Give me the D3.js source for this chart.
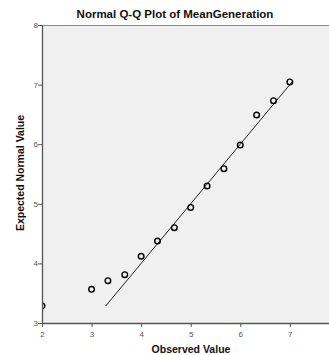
<!DOCTYPE html>
<html><head><meta charset="utf-8">
<script src="https://cdn.jsdelivr.net/npm/d3@7"></script>
<style>body{margin:0;background:#fff}svg{display:block}</style>
</head><body>
<svg id="c" width="329" height="355"></svg>
<script>
const observed = [2.0, 3.0, 3.33, 3.67, 4.0, 4.33, 4.67, 5.0, 5.33, 5.67, 6.0, 6.33, 6.67, 7.0];
const expected = [3.285, 3.565, 3.71, 3.81, 4.12, 4.375, 4.60, 4.94, 5.30, 5.59, 5.985, 6.49, 6.73, 7.045];
const xTicks = [2, 3, 4, 5, 6, 7];
const yTicks = [3, 4, 5, 6, 7, 8];
const refLine = [3.285, 7.045];

const svg = d3.select("#c");
const L = 42, R = 329, T = 25, B = 323;
const x = d3.scaleLinear().domain([2, 7.79]).range([L, R]);
const y = d3.scaleLinear().domain([3, 8]).range([B, T]);

svg.append("defs").append("clipPath").attr("id", "pc")
  .append("rect").attr("x", L + 1).attr("y", T).attr("width", R - L).attr("height", B - T);

svg.append("rect").attr("x", L).attr("y", T).attr("width", R - L).attr("height", B - T).attr("fill", "#f0f0f0");
svg.append("line").attr("x1", L).attr("x2", R).attr("y1", T + 0.5).attr("y2", T + 0.5).attr("stroke", "#888").attr("stroke-width", 1);

const fontF = "'Liberation Sans', Arial, sans-serif";

const plot = svg.append("g").attr("clip-path", "url(#pc)");
plot.append("line")
  .attr("x1", x(refLine[0])).attr("y1", y(refLine[0]))
  .attr("x2", x(refLine[1])).attr("y2", y(refLine[1]))
  .attr("stroke", "#222").attr("stroke-width", 1);
plot.append("g").selectAll("circle").data(observed).join("circle")
  .attr("cx", (d) => x(d)).attr("cy", (d, i) => y(expected[i])).attr("r", 2.8)
  .attr("fill", "none").attr("stroke", "#000").attr("stroke-width", 1.4);

const xa = svg.append("g").attr("transform", `translate(0,${B})`)
  .call(d3.axisBottom(x).tickValues(xTicks).tickSize(4).tickSizeOuter(0).tickFormat(d3.format("d")));
const ya = svg.append("g").attr("transform", `translate(${L},0)`)
  .call(d3.axisLeft(y).tickValues(yTicks).tickSize(4).tickSizeOuter(0).tickFormat(d3.format("d")));
[xa, ya].forEach(a => {
  a.select(".domain").attr("stroke", "#555").attr("stroke-width", 1.3);
  a.selectAll(".tick line").attr("stroke", "#555");
  a.selectAll(".tick text").attr("fill", "#555").style("font-family", fontF).style("font-size", "8px");
});
xa.selectAll(".tick text").attr("dy", "0.9em");
ya.selectAll(".tick text").attr("x", -4);

svg.append("text").attr("x", 175).attr("y", 18).attr("text-anchor", "middle")
  .style("font-family", fontF).style("font-weight", "bold").style("font-size", "11.5px").attr("fill", "#111")
  .text("Normal Q-Q Plot of MeanGeneration");
svg.append("text").attr("x", 191).attr("y", 353).attr("text-anchor", "middle")
  .style("font-family", fontF).style("font-weight", "bold").style("font-size", "10.5px").attr("fill", "#111")
  .text("Observed Value");
svg.append("text").attr("transform", "translate(24,173) rotate(-90)").attr("text-anchor", "middle")
  .style("font-family", fontF).style("font-weight", "bold").style("font-size", "10.5px").attr("fill", "#111")
  .text("Expected Normal Value");
</script>
</body></html>
